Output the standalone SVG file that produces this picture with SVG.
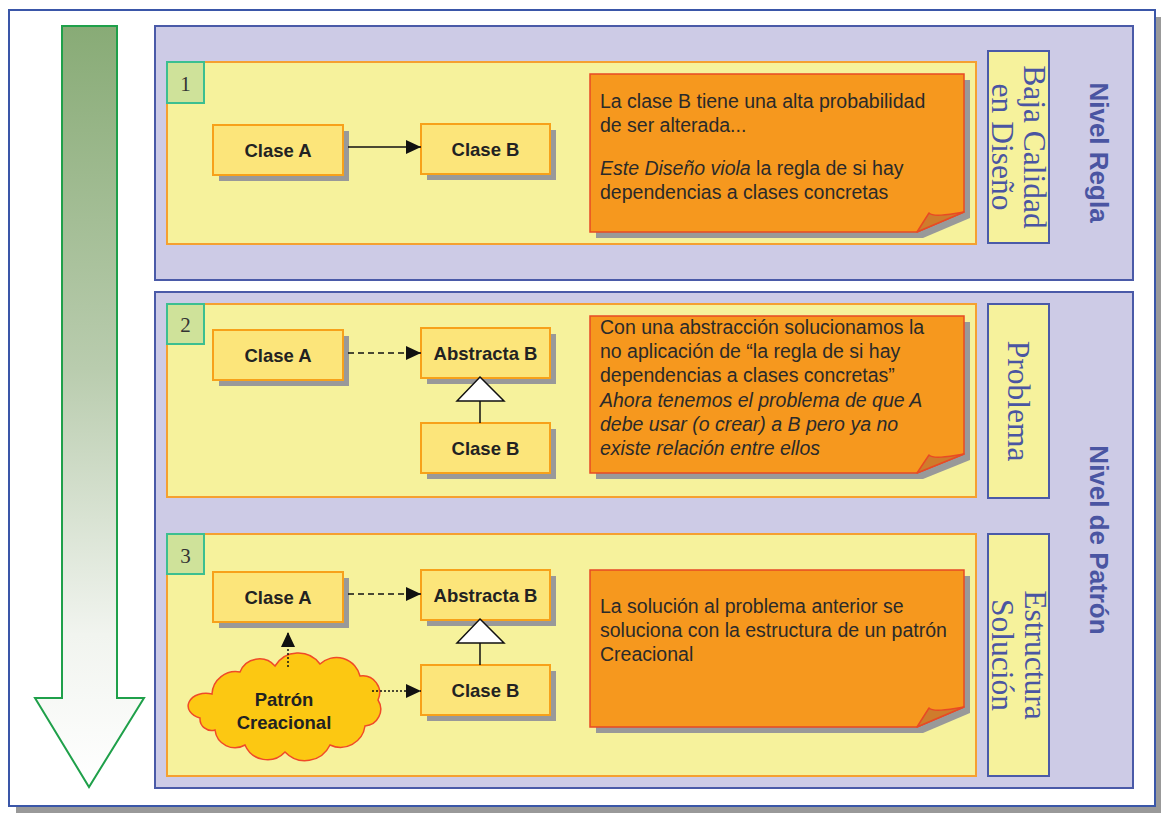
<svg xmlns="http://www.w3.org/2000/svg" width="1161" height="813" viewBox="0 0 1161 813">
<defs>
<linearGradient id="arrowGrad" x1="0" y1="0" x2="0" y2="1">
<stop offset="0" stop-color="#88ab76"/>
<stop offset="0.45" stop-color="#b9ccae"/>
<stop offset="0.8" stop-color="#f1f4ef"/>
<stop offset="1" stop-color="#ffffff"/>
</linearGradient>
<marker id="head" markerUnits="userSpaceOnUse" markerWidth="16" markerHeight="16" refX="15" refY="8" orient="auto">
<path d="M0,1 L15,8 L0,15 Z" fill="#111"/>
</marker>
<style>
.panel{fill:#cdcbe6;stroke:#4a5aa8;stroke-width:2}
.sub{fill:#f6f29c;stroke:#f5a030;stroke-width:2}
.num{fill:#cfe29a;stroke:#3cbf90;stroke-width:2}
.numt{font-family:"Liberation Serif","Times New Roman",serif;font-size:21px;fill:#333;text-anchor:middle}
.cls{fill:#fce57a;stroke:#f7a11a;stroke-width:2}
.shd{fill:#999}
.clst{font-family:"Liberation Sans",Arial,sans-serif;font-size:18.5px;font-weight:bold;fill:#222;text-anchor:middle}
.note{fill:#f6981e;stroke:#e84a25;stroke-width:1.5}
.fold{fill:#cf7c2c;stroke:#e84a25;stroke-width:1.5;stroke-linejoin:round}
.nt{font-family:"Liberation Sans",Arial,sans-serif;font-size:19.5px;fill:#2a2a2a}
.it{font-style:italic}
.lbl{fill:#f6f29c;stroke:#4a5aa8;stroke-width:2}
.lblt{font-family:"Liberation Serif","Times New Roman",serif;font-size:31.5px;fill:#4a55a2;text-anchor:middle}
.niv{font-family:"Liberation Sans",Arial,sans-serif;font-size:26px;font-weight:bold;fill:#4a55a2;text-anchor:middle}
.ln{fill:none;stroke:#111;stroke-width:1.5}
.dash{stroke-dasharray:6 4}
.dot{stroke-dasharray:2 2}
.tri{fill:#fff;stroke:#111;stroke-width:1.5;stroke-linejoin:miter}
</style>
</defs>

<g id="frame">
<rect x="16" y="17" width="1146" height="796" fill="#999"/>
<rect x="9" y="10" width="1146" height="796" fill="#fff" stroke="#3a56a8" stroke-width="2"/>
</g>

<g id="flow-arrow">
<path d="M62,26 H117 V698 H144 L89,787 L35,698 H62 Z" fill="url(#arrowGrad)" stroke="#1fa04a" stroke-width="2" stroke-linejoin="miter"/>
</g>

<g id="panel-regla">
<rect class="panel" x="155" y="26" width="978" height="254"/>
<text class="niv" transform="translate(1090,152.5) rotate(90)">Nivel Regla</text>
</g>
<g id="panel-patron">
<rect class="panel" x="155" y="292" width="978" height="496"/>
<text class="niv" transform="translate(1090,540) rotate(90)">Nivel de Patrón</text>
</g>

<g id="label-baja">
<rect class="lbl" x="988" y="51" width="61" height="192"/>
<text class="lblt" transform="translate(1024,147) rotate(90)">Baja Calidad</text>
<text class="lblt" transform="translate(992,147) rotate(90)">en Diseño</text>
</g>
<g id="label-problema">
<rect class="lbl" x="988" y="304" width="61" height="194"/>
<text class="lblt" transform="translate(1008,401) rotate(90)">Problema</text>
</g>
<g id="label-estructura">
<rect class="lbl" x="988" y="534" width="61" height="242"/>
<text class="lblt" transform="translate(1025,655) rotate(90)">Estructura</text>
<text class="lblt" transform="translate(992,655) rotate(90)">Solución</text>
</g>

<!-- Step 1 -->
<g id="step1">
<rect class="sub" x="167" y="62" width="809" height="182"/>
<rect class="num" x="167" y="62" width="37" height="41"/>
<text class="numt" x="185.5" y="91">1</text>
</g>
<g id="s1-claseA">
<rect class="shd" x="219" y="131" width="130" height="50"/>
<rect class="cls" x="213" y="125" width="130" height="50"/>
<text class="clst" x="278" y="157">Clase A</text>
</g>
<g id="s1-claseB">
<rect class="shd" x="427" y="130" width="129" height="50"/>
<rect class="cls" x="421" y="124" width="129" height="50"/>
<text class="clst" x="485.5" y="156">Clase B</text>
</g>
<g id="s1-note">
<path class="shd" d="M596,80 H970 V218 L923,238 H596 Z"/>
<path class="note" d="M590,74 H964 V212 L917,232 H590 Z"/>
<path class="fold" d="M917,232 L929,213 C933,217 946,215 964,212 Z"/>
<text class="nt" x="600" y="108">La clase B tiene una alta probabilidad</text>
<text class="nt" x="600" y="132">de ser alterada...</text>
<text class="nt" x="600" y="175"><tspan class="it">Este Diseño viola</tspan> la regla de si hay</text>
<text class="nt" x="600" y="199">dependencias a clases concretas</text>
</g>

<!-- Step 2 -->
<g id="step2">
<rect class="sub" x="167" y="304" width="809" height="193"/>
<rect class="num" x="167" y="304" width="37" height="40"/>
<text class="numt" x="185.5" y="332">2</text>
</g>
<g id="s2-claseA">
<rect class="shd" x="219" y="336" width="130" height="50"/>
<rect class="cls" x="213" y="330" width="130" height="50"/>
<text class="clst" x="278" y="362">Clase A</text>
</g>
<g id="s2-abstractaB">
<rect class="shd" x="427" y="334" width="129" height="50"/>
<rect class="cls" x="421" y="328" width="129" height="50"/>
<text class="clst" x="485.5" y="360">Abstracta B</text>
</g>
<g id="s2-claseB">
<rect class="shd" x="427" y="429" width="129" height="50"/>
<rect class="cls" x="421" y="423" width="129" height="50"/>
<text class="clst" x="485.5" y="455">Clase B</text>
</g>
<g id="s2-note">
<path class="shd" d="M596,322 H970 V460 L923,479 H596 Z"/>
<path class="note" d="M590,316 H964 V454 L917,473 H590 Z"/>
<path class="fold" d="M917,473 L929,455 C933,459 946,457 964,454 Z"/>
<text class="nt" x="600" y="334">Con una abstracción solucionamos la</text>
<text class="nt" x="600" y="358">no aplicación de “la regla de si hay</text>
<text class="nt" x="600" y="382">dependencias a clases concretas”</text>
<text class="nt it" x="600" y="407">Ahora tenemos el problema de que A</text>
<text class="nt it" x="600" y="431">debe usar (o crear) a B pero ya no</text>
<text class="nt it" x="600" y="455">existe relación entre ellos</text>
</g>

<!-- Step 3 -->
<g id="step3">
<rect class="sub" x="167" y="534" width="809" height="242"/>
<rect class="num" x="167" y="534" width="37" height="40"/>
<text class="numt" x="185.5" y="563">3</text>
</g>
<g id="s3-claseA">
<rect class="shd" x="219" y="578" width="130" height="50"/>
<rect class="cls" x="213" y="572" width="130" height="50"/>
<text class="clst" x="278" y="604">Clase A</text>
</g>
<g id="s3-abstractaB">
<rect class="shd" x="427" y="576" width="129" height="50"/>
<rect class="cls" x="421" y="570" width="129" height="50"/>
<text class="clst" x="485.5" y="602">Abstracta B</text>
</g>
<g id="s3-claseB">
<rect class="shd" x="427" y="671" width="129" height="50"/>
<rect class="cls" x="421" y="665" width="129" height="50"/>
<text class="clst" x="485.5" y="697">Clase B</text>
</g>
<g id="s3-patron">
<path d="M212,694 A23.8,23.8 0 0 1 240,672 A20.8,20.8 0 0 1 275,666 A27.1,27.1 0 0 1 320,664 A24.2,24.2 0 0 1 360,676 A17,17 0 0 1 378,700 A16.9,16.9 0 0 1 365,726 A24.8,24.8 0 0 1 330,745 A27.6,27.6 0 0 1 285,752 A24.2,24.2 0 0 1 245,745 A20.1,20.1 0 0 1 215,730 A11.7,11.7 0 0 1 200,718 A14,10 0 0 1 212,694 Z" fill="#fcc812" stroke="#f04a28" stroke-width="1.5"/>
<text class="clst" x="284" y="706">Patrón</text>
<text class="clst" x="284" y="729">Creacional</text>
</g>
<g id="s3-note">
<path class="shd" d="M596,576 H970 V713 L923,733 H596 Z"/>
<path class="note" d="M590,570 H964 V707 L917,727 H590 Z"/>
<path class="fold" d="M917,727 L929,708 C933,712 946,710 964,707 Z"/>
<text class="nt" x="600" y="613">La solución al problema anterior se</text>
<text class="nt" x="600" y="637">soluciona con la estructura de un patrón</text>
<text class="nt" x="600" y="661">Creacional</text>
</g>

<g id="connectors">
<line class="ln" x1="348" y1="147" x2="421" y2="147" marker-end="url(#head)"/>
<line class="ln dash" x1="348" y1="353" x2="421" y2="353" marker-end="url(#head)"/>
<line class="ln" x1="480" y1="423" x2="480" y2="401"/>
<polygon class="tri" points="480,377 504,401 457,401"/>
<line class="ln dash" x1="348" y1="594" x2="421" y2="594" marker-end="url(#head)"/>
<line class="ln" x1="480" y1="665" x2="480" y2="643"/>
<polygon class="tri" points="480,619 504,643 457,643"/>
<line class="ln dot" x1="288" y1="667" x2="288" y2="632" marker-end="url(#head)"/>
<line class="ln dot" x1="372" y1="691" x2="421" y2="691" marker-end="url(#head)"/>
</g>
</svg>
